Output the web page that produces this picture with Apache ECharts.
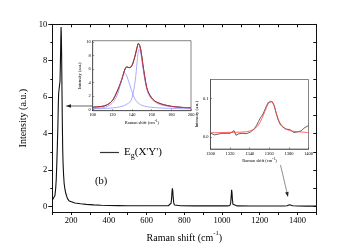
<!DOCTYPE html>
<html><head><meta charset="utf-8">
<script src="https://cdn.jsdelivr.net/npm/echarts@6/dist/echarts.min.js"></script>
<style>html,body{margin:0;padding:0;background:#fff}#c{width:351px;height:248px}</style>
</head><body><div id="c"></div>
<script>
// ---- Main spectrum ----
const mainX = [100,105,110,114,118,121,124,127,129.5,131.5,133.5,135,137,139,141,143,145,146.5,148,149.5,151,153,155,157,160,163,167,172,180,190,200,
  220,250,280,320,360,400,450,500,550,600,650,700,715,725,730,733,735,737,739,741,744,748,755,780,850,950,1030,1042,1046,1049,1051,1053,1055,1058,1062,1080,1150,1250,1330,1345,1352,1358,1362,1368,1375,1400,1450,1500];
const mainY = [0.35,0.4,0.45,0.6,1.0,1.5,2.4,3.4,4.4,5.4,6.2,6.3,6.2,6.3,6.9,7.9,9.1,9.85,9.4,8.3,6.7,4.8,3.2,2.4,1.7,1.25,0.95,0.7,0.45,0.3,0.25,
  0.19,0.15,0.12,0.09,0.07,0.055,0.05,0.045,0.04,0.04,0.04,0.04,0.045,0.07,0.18,0.5,0.85,1.0,0.85,0.5,0.2,0.08,0.05,0.04,0.035,0.035,0.035,0.06,0.2,0.6,0.92,0.75,0.4,0.12,0.05,0.035,0.03,0.03,0.03,0.04,0.07,0.1,0.1,0.07,0.04,0.03,0.025,0.02];
const mainXTicks = [100,200,300,400,500,600,700,800,900,1000,1100,1200,1300,1400,1500];
const mainXLabels = [200,400,600,800,1000,1200,1400];
const mainYLabels = [0,2,4,6,8,10];
const mainYMinor = [1,3,5,7,9];
const rightYTicks = [0,1,2,3,4,5,6,7,8,9,10];

// ---- Inset 1 (100-200 cm-1) ----
const in1X = [100,105,110,114,118,121,124,127,129.5,131.5,133.5,135,137,139,141,143,145,146.5,148,149.5,151,153,155,157,160,163,167,172,180,190,200];
const in1Data = [0.32,0.38,0.45,0.62,1.0,1.5,2.4,3.4,4.4,5.4,6.2,6.3,6.2,6.3,6.9,7.9,9.1,9.8,9.4,8.3,6.7,4.8,3.2,2.4,1.7,1.25,0.95,0.7,0.45,0.3,0.22];
const in1Fit  = [0.3,0.37,0.47,0.65,1.0,1.5,2.35,3.4,4.4,5.35,6.15,6.3,6.2,6.3,6.9,7.9,9.1,9.8,9.4,8.3,6.7,4.8,3.25,2.45,1.7,1.25,0.95,0.7,0.45,0.3,0.22];
const comp1X = [100,110,115,118,121,124,127,129,131,132.5,134,136,138,140,142,144,147,150,155,160,170,185,200];
const comp1Y = [0.15,0.25,0.45,0.7,1.1,1.8,3.0,4.2,5.1,5.4,5.2,4.4,3.5,2.6,1.8,1.3,0.85,0.6,0.4,0.3,0.2,0.12,0.08];
const comp2X = [100,115,125,131,135,138,140,142,144,145.5,147,148.5,150,152,154,156,158,160,165,170,180,190,200];
const comp2Y = [0.08,0.15,0.3,0.5,0.8,1.1,1.7,3.0,5.2,7.5,8.9,8.6,7.3,5.3,3.6,2.5,1.9,1.5,0.95,0.65,0.4,0.3,0.22];
const in1XTicks = [100,120,140,160,180,200];
const in1YTicks = [0,2,4,6,8,10];

// ---- Inset 2 (1300-1400 cm-1) ----
const in2X = [1300,1302,1304,1306,1308,1310,1312,1314,1316,1318,1320,1322,1324,1325,1326,1327.5,1329,1331,1333,1335,1337,1339,1341,1343,1345,1347,1349,1351,1353,1355,1357,1359,1361,1363,1365,1367,1369,1371,1373,1375,1377,1379,1381,1383,1385,1387,1389,1391,1393,1395,1397,1399,1400];
const in2Data = [0.010,0.009,0.005,0.004,0.007,0.010,0.009,0.008,0.009,0.008,0.009,0.011,0.016,0.012,0.004,0.001,0.008,0.006,0.009,0.007,0.008,0.011,0.013,0.017,0.022,0.030,0.040,0.050,0.057,0.068,0.080,0.090,0.093,0.092,0.082,0.062,0.045,0.033,0.027,0.024,0.020,0.016,0.019,0.014,0.011,0.016,0.013,0.018,0.016,0.022,0.024,0.028,0.030];
const fit2X = [1300,1310,1320,1330,1336,1340,1344,1348,1351,1354,1357,1359,1361,1363,1365,1367,1369,1371,1374,1378,1383,1390,1400];
const fit2Y = [0.0105,0.011,0.0115,0.012,0.013,0.015,0.019,0.028,0.040,0.057,0.076,0.087,0.093,0.091,0.080,0.063,0.047,0.036,0.026,0.019,0.015,0.013,0.011];
const in2XTicks = [1300,1320,1340,1360,1380,1400];
const in2YLabels = [0, 0.1];

const zip = (xs, ys) => xs.map((x, i) => [x, ys[i]]);
const FF = "'Liberation Serif', 'DejaVu Serif', serif";
const black = '#111';
const plain = v => String(v);

function ax(o) {
  return Object.assign({
    type: 'value', splitLine: {show: false},
    axisLine: {show: true, onZero: false, lineStyle: {color: black, width: 1}},
  }, o);
}

const chart = echarts.init(document.getElementById('c'), null, {renderer: 'canvas'});
chart.setOption({
  animation: false,
  backgroundColor: '#fff',
  textStyle: {fontFamily: FF},
  grid: [
    {left: 52.3, right: 34.7, top: 24.3, bottom: 36, show: false},
    {left: 92.7, right: 160, top: 40.7, bottom: 137.3, show: true, backgroundColor: '#fff', borderColor: '#333', borderWidth: 0.6},
    {left: 210.5, right: 42.5, top: 79.5, bottom: 99, show: true, backgroundColor: '#fff', borderColor: '#333', borderWidth: 0.6}
  ],
  xAxis: [
    ax({gridIndex: 0, min: 100, max: 1500, position: 'bottom',
      axisTick: {customValues: mainXTicks, length: 3, lineStyle: {color: black}},
      axisLabel: {customValues: mainXLabels, formatter: plain, fontSize: 8.5, color: '#000', fontFamily: FF, margin: 4},
      name: '{t|Raman shift (cm}{s|-1}{t|)}', nameLocation: 'middle', nameGap: 13,
      nameTextStyle: {rich: {t: {fontSize: 10, fontFamily: FF, color: '#000'}, s: {fontSize: 6.5, fontFamily: FF, color: '#000', padding: [0, 0, 9, 0]}}}}),
    ax({gridIndex: 0, min: 100, max: 1500, position: 'top',
      axisTick: {customValues: mainXTicks, inside: true, length: 3, lineStyle: {color: black}},
      axisLabel: {show: false}}),
    ax({gridIndex: 1, min: 100, max: 200, position: 'bottom',
      axisLine: {show: true, onZero: false, lineStyle: {color: '#333', width: 0.6}},
      axisTick: {customValues: in1XTicks, inside: true, length: 1.5, lineStyle: {color: '#333', width: 0.5}},
      axisLabel: {customValues: in1XTicks, formatter: plain, fontSize: 4.5, color: '#000', fontFamily: FF, margin: 2},
      name: '{t|Raman shift (cm}{s|-1}{t|)}', nameLocation: 'middle', nameGap: 5.5,
      nameTextStyle: {rich: {t: {fontSize: 4.5, fontFamily: FF, color: '#000'}, s: {fontSize: 3.5, fontFamily: FF, color: '#000', padding: [0, 0, 4, 0]}}}}),
    ax({gridIndex: 2, min: 1300, max: 1400, position: 'bottom',
      axisLine: {show: true, onZero: false, lineStyle: {color: '#333', width: 0.6}},
      axisTick: {customValues: in2XTicks, inside: true, length: 1.5, lineStyle: {color: '#333', width: 0.5}},
      axisLabel: {customValues: in2XTicks, formatter: plain, fontSize: 4.5, color: '#000', fontFamily: FF, margin: 2},
      name: '{t|Raman shift (cm}{s|-1}{t|)}', nameLocation: 'middle', nameGap: 7,
      nameTextStyle: {rich: {t: {fontSize: 4.5, fontFamily: FF, color: '#000'}, s: {fontSize: 3.5, fontFamily: FF, color: '#000', padding: [0, 0, 4, 0]}}}})
  ],
  yAxis: [
    ax({gridIndex: 0, min: -0.3, max: 10, position: 'left',
      axisTick: {customValues: mainYLabels, length: 4, lineStyle: {color: black}},
      axisLabel: {customValues: mainYLabels, formatter: plain, fontSize: 8.5, color: '#000', fontFamily: FF, margin: 5},
      name: 'Intensity (a.u.)', nameLocation: 'middle', nameGap: 14,
      nameTextStyle: {fontSize: 10, fontFamily: FF, color: '#000'}}),
    ax({gridIndex: 0, min: -0.3, max: 10, position: 'left',
      axisLine: {show: false},
      axisTick: {customValues: mainYMinor, length: 2, lineStyle: {color: black}},
      axisLabel: {show: false}}),
    ax({gridIndex: 0, min: -0.3, max: 10, position: 'right',
      axisTick: {customValues: rightYTicks, inside: true, length: 3, lineStyle: {color: black}},
      axisLabel: {show: false}}),
    ax({gridIndex: 1, min: -0.2, max: 10.2, position: 'left',
      axisLine: {show: true, onZero: false, lineStyle: {color: '#333', width: 0.6}},
      axisTick: {customValues: in1YTicks, inside: true, length: 1.5, lineStyle: {color: '#333', width: 0.5}},
      axisLabel: {customValues: in1YTicks, formatter: plain, fontSize: 4.5, color: '#000', fontFamily: FF, margin: 2},
      name: 'Intensity (a.u.)', nameLocation: 'middle', nameGap: 6,
      nameTextStyle: {fontSize: 4.5, fontFamily: FF, color: '#000'}}),
    ax({gridIndex: 2, min: -0.032, max: 0.15, position: 'left',
      axisLine: {show: true, onZero: false, lineStyle: {color: '#333', width: 0.6}},
      axisTick: {customValues: in2YLabels, inside: true, length: 1.5, lineStyle: {color: '#333', width: 0.5}},
      axisLabel: {customValues: in2YLabels, fontSize: 4.5, color: '#000', fontFamily: FF, margin: 2, formatter: v => v.toFixed(1)},
      name: 'Intensity (a.u.)', nameLocation: 'middle', nameGap: 9,
      nameTextStyle: {fontSize: 4.5, fontFamily: FF, color: '#000'}})
  ],
  legend: {
    data: [{name: 'Eg', icon: 'rect'}], left: 100, top: 147, padding: 0, selectedMode: false,
    itemWidth: 19, itemHeight: 1.2,
    formatter: () => '{a|E}{s|g}{a|(X\'Y\')}',
    textStyle: {fontFamily: FF, color: '#000', rich: {
      a: {fontSize: 11, fontFamily: FF, color: '#000'},
      s: {fontSize: 8, fontFamily: FF, color: '#000', padding: [7, 0, 0, 0]}
    }}
  },
  series: [
    {name: 'Eg', type: 'line', xAxisIndex: 0, yAxisIndex: 0, data: zip(mainX, mainY), symbol: 'none',
      lineStyle: {color: black, width: 1.1}, itemStyle: {color: '#333'}},
    {name: 'in1data', type: 'line', xAxisIndex: 2, yAxisIndex: 3, data: zip(in1X, in1Data), symbol: 'none', smooth: 0.3,
      lineStyle: {color: '#222', width: 1}},
    {name: 'comp1', type: 'line', xAxisIndex: 2, yAxisIndex: 3, data: zip(comp1X, comp1Y), symbol: 'none', smooth: 0.3,
      lineStyle: {color: '#8888ff', width: 0.7}},
    {name: 'comp2', type: 'line', xAxisIndex: 2, yAxisIndex: 3, data: zip(comp2X, comp2Y), symbol: 'none', smooth: 0.3,
      lineStyle: {color: '#8888ff', width: 0.7}},
    {name: 'fit1', type: 'line', xAxisIndex: 2, yAxisIndex: 3, data: zip(in1X, in1Fit), symbol: 'none', smooth: 0.3,
      lineStyle: {color: '#e03030', width: 0.8}},
    {name: 'in2data', type: 'line', xAxisIndex: 3, yAxisIndex: 4, data: zip(in2X, in2Data), symbol: 'none',
      lineStyle: {color: '#222', width: 0.7}},
    {name: 'fit2', type: 'line', xAxisIndex: 3, yAxisIndex: 4, data: zip(fit2X, fit2Y), symbol: 'none', smooth: 0.3,
      lineStyle: {color: '#ff4040', width: 0.8}}
  ],
  graphic: [
    {type: 'text', left: 95, top: 176, style: {text: '(b)', font: '10.5px "Liberation Serif"', fill: '#000'}},
    {type: 'line', shape: {x1: 92, y1: 106, x2: 70, y2: 106}, style: {stroke: '#222', lineWidth: 0.7}},
    {type: 'polygon', shape: {points: [[65.5, 106], [71, 104.3], [71, 107.7]]}, style: {fill: '#222'}},
    {type: 'line', shape: {x1: 280.5, y1: 165, x2: 286.9, y2: 192.1}, style: {stroke: '#444', lineWidth: 0.6}},
    {type: 'polygon', shape: {points: [[288, 197], [288.6, 191.7], [285.1, 192.5]]}, style: {fill: '#222'}}
  ]
});
</script>
</body></html>
